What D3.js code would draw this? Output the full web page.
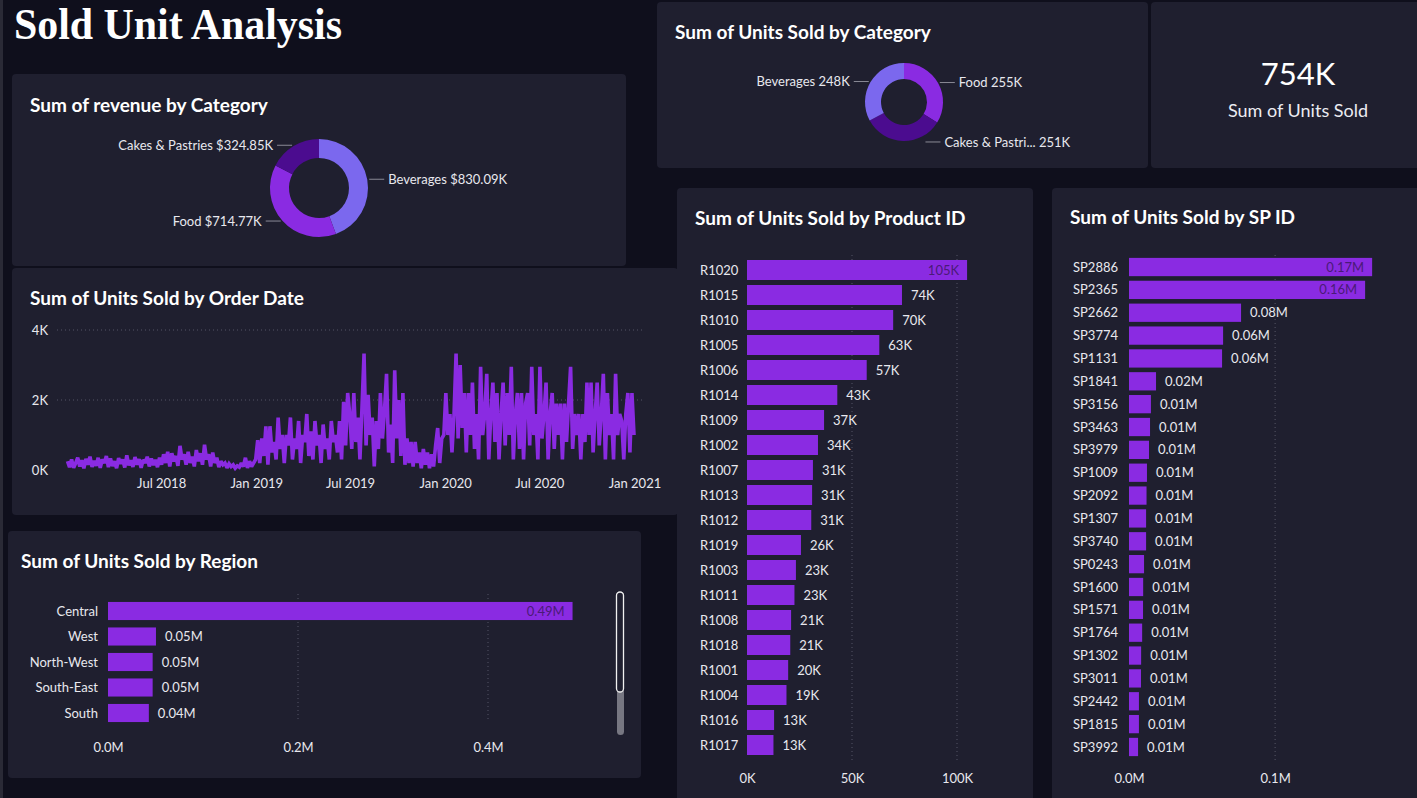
<!DOCTYPE html>
<html><head><meta charset="utf-8">
<script src="https://cdn.jsdelivr.net/npm/d3@7"></script>
<style>
html,body{margin:0;padding:0;background:#0f0f1c;overflow:hidden;}
svg{display:block;font-family:Lato,"Open Sans",sans-serif;}
</style></head><body>
<svg id="c" width="1417" height="798"></svg>
<script>
// ---------------- DATA ----------------
const pageTitle = "Sold Unit Analysis";

const revenueCategories = ["Beverages", "Food", "Cakes & Pastries"];
const revenueK = [830.09, 714.77, 324.85];

const unitCategories = ["Food", "Cakes & Pastries", "Beverages"];
const unitsK = [255, 251, 248];

const regions = ["Central", "West", "North-West", "South-East", "South"];
const regionUnitsM = [0.489, 0.0505, 0.047, 0.047, 0.043];
const regionTicks = [0, 0.2, 0.4];

const productIds = ["R1020","R1015","R1010","R1005","R1006","R1014","R1009","R1002","R1007","R1013",
                    "R1012","R1019","R1003","R1011","R1008","R1018","R1001","R1004","R1016","R1017"];
const productUnitsK = [104.8, 73.8, 69.6, 63, 57, 43, 36.7, 33.8, 31.4, 31,
                       30.6, 25.7, 23.3, 22.6, 21, 20.6, 19.6, 18.8, 12.9, 12.6];
const productTicks = [0, 50, 100];

const spIds = ["SP2886","SP2365","SP2662","SP3774","SP1131","SP1841","SP3156","SP3463","SP3979","SP1009","SP2092",
               "SP1307","SP3740","SP0243","SP1600","SP1571","SP1764","SP1302","SP3011","SP2442","SP1815","SP3992"];
const spUnitsM = [0.1664, 0.1616, 0.0767, 0.0644, 0.0637, 0.0185, 0.015, 0.0144, 0.0137, 0.0123, 0.012,
                  0.0117, 0.0117, 0.0103, 0.0097, 0.0096, 0.009, 0.0083, 0.0082, 0.0068, 0.0068, 0.0062];
const spTicks = [0, 0.1];

// Units sold by order date (one value every ~4 days, Jan 2018 - Dec 2020)
const dateStart = "2018-01-01";
const dateEnd = "2020-12-31";
const unitsByDate = [
 250,80,300,60,200,350,100,280,50,320,150,380,90,260,120,350,60,300,200,400,80,330,110,250,50,340,180,300,70,420,130,280,90,370,150,310,60,290,200,380,100,330,140,290,80,350,
 150,450,200,520,100,480,250,400,120,690,300,450,150,520,200,380,100,570,250,480,150,720,300,450,100,500,200,350,80,250,150,200,60,180,100,150,50,120,80,200,100,350,60,250,100,200,
 300,850,200,900,400,1250,150,1250,500,800,300,1500,600,1000,200,1000,700,1500,300,900,600,1400,200,1000,800,1600,400,1100,300,1400,700,1000,200,1300,600,900,300,1400,800,1000,500,1400,300,1950,700,2200,
 1600,600,2200,800,1500,300,1800,3330,700,2150,1000,1500,100,1400,600,2200,900,1700,2750,500,1300,200,2850,900,2000,400,2200,150,900,200,800,100,800,200,500,50,600,150,500,50,450,100,700,1200,200,900,
 1000,2200,1000,1600,500,1600,3330,900,3000,1200,2200,500,2200,1000,2500,600,1600,300,2950,1000,1600,2750,300,1600,2500,800,2200,300,1600,2500,700,2200,1000,2950,300,1600,2200,600,2200,300,1900,2200,700,2950,1000,1600,
 300,2950,900,1600,2500,300,1600,2200,600,1900,1000,1900,300,1900,800,1900,2950,600,1600,1000,1600,300,1600,800,2500,1000,2500,500,1600,2500,700,1600,2750,300,2200,1000,1600,300,2750,1000,1600,1400,300,1600,2200,500,2200,1000
];
const dateTicks = ["2018-07-01","2019-01-01","2019-07-01","2020-01-01","2020-07-01","2021-01-01"];
const unitTicks = [0, 2000, 4000];

// ---------------- STYLE ----------------
const C = {
  bg: "#0f0f1c", panel: "#1f1f2f", bar: "#8a2be2", light: "#7b68ee", dark: "#4b0c8f",
  text: "#ffffff", label: "#e8e8ee", grid: "#555566", inside: "#4a1a78", leader: "#8a8a96"
};

const svg = d3.select("#c");
svg.append("rect").attr("width", 1417).attr("height", 798).attr("fill", C.bg);
svg.append("rect").attr("x",0).attr("y",0).attr("width",3).attr("height",798).attr("fill","#2a2a36");

function panel(x, y, w, h) {
  svg.append("rect").attr("x", x).attr("y", y).attr("width", w).attr("height", h)
    .attr("rx", 4).attr("fill", C.panel);
}
function title(x, y, t) {
  svg.append("text").attr("x", x).attr("y", y).attr("fill", C.text)
    .attr("font-size", 19).attr("font-weight", 700).attr("dy", "0.35em").text(t);
}

// Panels (order matters for overlap)
panel(12, 74, 614, 192);
panel(12, 268, 666, 247);
panel(8, 531, 633, 247);
panel(657, 2, 491, 166);
panel(1151, 2, 270, 166);
panel(677, 188, 356, 620);
panel(1052, 188, 370, 620);

// Page title
svg.append("text").attr("x", 14).attr("y", 39)
  .attr("font-family", "'Liberation Serif','Times New Roman',serif")
  .attr("font-weight", 700).attr("font-size", 44).attr("fill", "#fff")
  .attr("textLength", 328).attr("lengthAdjust", "spacingAndGlyphs")
  .text(pageTitle);

// ---------------- DONUTS ----------------
function donut(cx, cy, rOut, rIn, names, values, colors, fmt, truncate) {
  const g = svg.append("g");
  const arcs = d3.pie().sort(null).value(d => d)(values);
  const arc = d3.arc().innerRadius(rIn).outerRadius(rOut);
  g.selectAll("path").data(arcs).join("path")
    .attr("transform", `translate(${cx},${cy})`)
    .attr("d", arc).attr("fill", (d, i) => colors[i]);
  arcs.forEach((a, i) => {
    const mid = (a.startAngle + a.endAngle) / 2;
    const s = Math.sin(mid), c = -Math.cos(mid);
    const right = s > -0.05;
    let px = cx + s * (rOut + 2), py = cy + c * (rOut + 1);
    px = right ? Math.max(px, cx + rOut * 0.55) : Math.min(px, cx - rOut * 0.55);
    const len = 15;
    const ex = px + (right ? len : -len);
    g.append("line").attr("x1", px).attr("y1", py).attr("x2", ex).attr("y2", py)
      .attr("stroke", C.leader).attr("stroke-width", 1);
    let name = names[i];
    if (truncate && name.length > truncate) name = name.slice(0, truncate) + "...";
    g.append("text").attr("x", ex + (right ? 4 : -4)).attr("y", py).attr("dy", "0.35em")
      .attr("text-anchor", right ? "start" : "end").attr("fill", C.label)
      .attr("font-size", 13).text(name + " " + fmt(values[i]));
  });
}
title(30, 105, "Sum of revenue by Category");
donut(319, 188, 49, 30, revenueCategories, revenueK, [C.light, C.bar, C.dark],
  v => "$" + d3.format(".2f")(v) + "K", 0);

title(675, 32, "Sum of Units Sold by Category");
donut(904, 102, 39, 23, unitCategories, unitsK, [C.bar, C.dark, C.light],
  v => d3.format(".0f")(v) + "K", 14);

// KPI card
const totalK = d3.sum(unitsK);
svg.append("text").attr("x", 1298).attr("y", 85).attr("text-anchor", "middle")
  .attr("fill", "#fff").attr("font-size", 31).attr("font-weight", 400).text(totalK + "K");
svg.append("text").attr("x", 1298).attr("y", 117).attr("text-anchor", "middle")
  .attr("fill", "#ececf2").attr("font-size", 18).attr("font-weight", 400).text("Sum of Units Sold");

// ---------------- LINE CHART ----------------
title(30, 298, "Sum of Units Sold by Order Date");
{
  const t0 = new Date(dateStart + "T00:00:00"), t1 = new Date(dateEnd + "T00:00:00");
  const n = unitsByDate.length;
  const pts = unitsByDate.map((v, i) => ({ d: new Date(+t0 + i * (t1 - t0) / (n - 1)), v }));
  const x = d3.scaleTime().domain([t0, t1]).range([67.5, 634]);
  const y = d3.scaleLinear().domain([0, 4000]).range([470, 330]);
  const g = svg.append("g");
  unitTicks.filter(t => t > 0).forEach(t => {
    g.append("line").attr("x1", 57).attr("x2", 645).attr("y1", y(t)).attr("y2", y(t))
      .attr("stroke", C.grid).attr("stroke-dasharray", "1,3");
  });
  const yAxis = g.append("g").attr("transform", "translate(48,0)")
    .call(d3.axisLeft(y).tickValues(unitTicks).tickSize(0).tickPadding(0).tickFormat(d => (d / 1000) + "K"));
  yAxis.select(".domain").remove();
  yAxis.selectAll("text").attr("fill", C.label).attr("font-size", 13).attr("font-family", "Lato");
  const xAxis = g.append("g").attr("transform", "translate(0,479)")
    .call(d3.axisBottom(x).tickValues(dateTicks.map(s => new Date(s + "T00:00:00")))
      .tickSize(0).tickPadding(0).tickFormat(d3.timeFormat("%b %Y")));
  xAxis.select(".domain").remove();
  xAxis.selectAll("text").attr("fill", C.label).attr("font-size", 13).attr("font-family", "Lato").attr("dy", "0.71em");
  g.append("path").datum(pts)
    .attr("d", d3.line().x(d => x(d.d)).y(d => y(d.v)))
    .attr("fill", "none").attr("stroke", C.bar).attr("stroke-width", 3.6)
    .attr("stroke-linejoin", "miter").attr("stroke-miterlimit", 2);
}

// ---------------- BAR CHARTS ----------------
function hbar(opts) {
  const { names, values, x0, x1, dmax, y0, y1, pad, ticks, tickFmt, valFmt, labelX, labelAnchor, tickY, gridTop, gridBottom } = opts;
  const g = svg.append("g");
  const x = d3.scaleLinear().domain([0, dmax]).range([x0, x1]);
  const y = d3.scaleBand().domain(names).range([y0, y1]).paddingInner(pad).paddingOuter(pad / 2);
  ticks.filter(t => t > 0).forEach(t => {
    g.append("line").attr("x1", x(t)).attr("x2", x(t)).attr("y1", gridTop).attr("y2", gridBottom)
      .attr("stroke", C.grid).attr("stroke-dasharray", "1,3");
  });
  g.selectAll("rect.b").data(values).join("rect").attr("class", "b")
    .attr("x", x(0)).attr("y", (d, i) => y(names[i]))
    .attr("width", d => x(d) - x(0)).attr("height", y.bandwidth()).attr("fill", C.bar);
  names.forEach((nm, i) => {
    g.append("text").attr("x", labelX).attr("y", y(nm) + y.bandwidth() / 2).attr("dy", "0.35em")
      .attr("text-anchor", labelAnchor).attr("fill", C.label).attr("font-size", 13).text(nm);
    const v = values[i];
    const inside = x(v) > x1 - 60;
    g.append("text")
      .attr("x", inside ? x(v) - 8 : x(v) + 9)
      .attr("y", y(nm) + y.bandwidth() / 2).attr("dy", "0.35em")
      .attr("text-anchor", inside ? "end" : "start")
      .attr("fill", inside ? C.inside : C.label).attr("font-size", 13).text(valFmt(v));
  });
  const ax = g.append("g").attr("transform", `translate(0,${tickY})`)
    .call(d3.axisBottom(x).tickValues(ticks).tickSize(0).tickPadding(0).tickFormat(tickFmt));
  ax.select(".domain").remove();
  ax.selectAll("text").attr("fill", C.label).attr("font-size", 13).attr("font-family", "Lato").attr("dy", "0.35em");
}

title(21, 561, "Sum of Units Sold by Region");
hbar({
  names: regions, values: regionUnitsM, x0: 108, x1: 583, dmax: 0.5, y0: 598.25, y1: 725.75, pad: 0.29,
  ticks: regionTicks, tickFmt: d => d3.format(".1f")(d) + "M", valFmt: v => d3.format(".2f")(v) + "M",
  labelX: 98, labelAnchor: "end", tickY: 747, gridTop: 594, gridBottom: 722
});
// scrollbar
svg.append("rect").attr("x", 617).attr("y", 592).attr("width", 7).attr("height", 143).attr("rx", 3.5).attr("fill", "#777782");
svg.append("rect").attr("x", 616.5).attr("y", 592).attr("width", 7).attr("height", 100).attr("rx", 3.5)
  .attr("fill", "#1f1f2f").attr("stroke", "#f0f0f0").attr("stroke-width", 1.3);

title(695, 218, "Sum of Units Sold by Product ID");
hbar({
  names: productIds, values: productUnitsK, x0: 747, x1: 978, dmax: 110, y0: 257.5, y1: 757.5, pad: 0.2,
  ticks: productTicks, tickFmt: d => d + "K", valFmt: v => d3.format(".0f")(v) + "K",
  labelX: 700, labelAnchor: "start", tickY: 778, gridTop: 255, gridBottom: 762
});

title(1070, 217, "Sum of Units Sold by SP ID");
hbar({
  names: spIds, values: spUnitsM, x0: 1129, x1: 1392, dmax: 0.18, y0: 255.6, y1: 758.4, pad: 0.2,
  ticks: spTicks, tickFmt: d => d3.format(".1f")(d) + "M", valFmt: v => d3.format(".2f")(v) + "M",
  labelX: 1073, labelAnchor: "start", tickY: 778, gridTop: 255, gridBottom: 762
});
</script>
</body></html>
